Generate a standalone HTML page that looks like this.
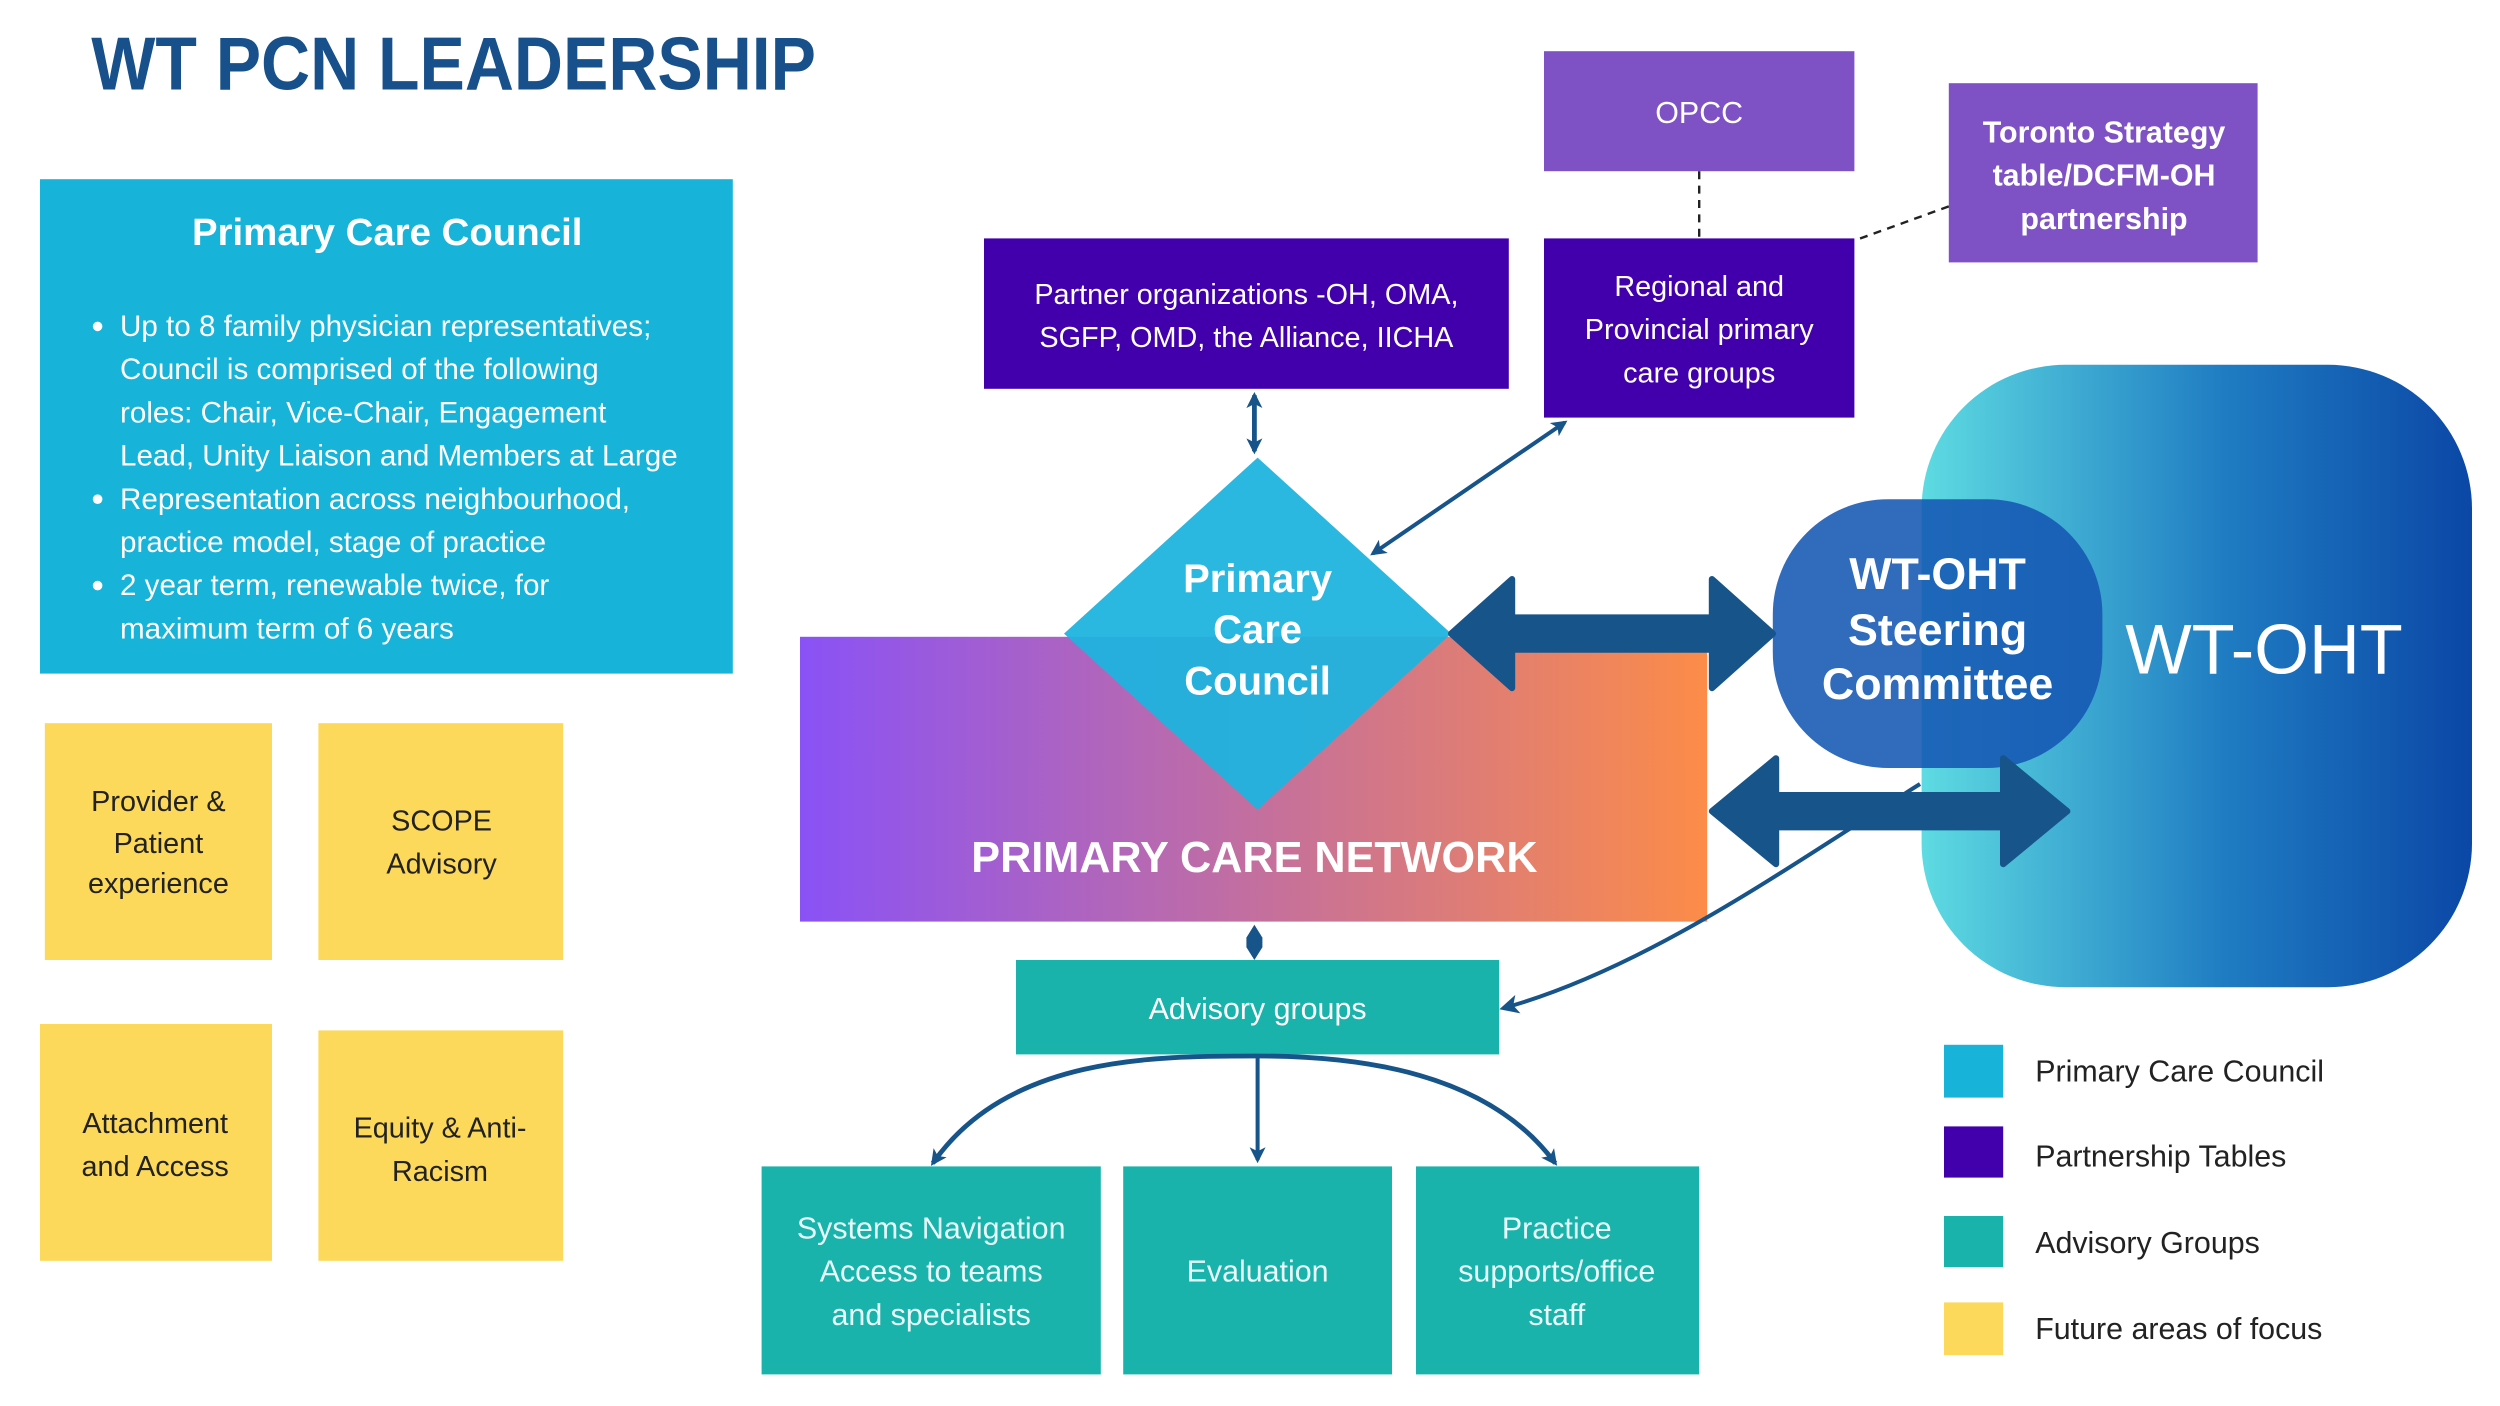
<!DOCTYPE html>
<html><head><meta charset="utf-8"><style>
html,body{margin:0;padding:0;background:#fff;}
svg{display:block;font-family:"Liberation Sans",sans-serif;}
</style></head><body>
<svg width="2500" height="1406" viewBox="0 0 1562.5 878.75" xmlns="http://www.w3.org/2000/svg">
<defs>
<linearGradient id="pcn" x1="0" x2="1"><stop offset="0" stop-color="#8a52f6"/><stop offset="1" stop-color="#fc8c48"/></linearGradient>
<linearGradient id="oht" x1="0" x2="1"><stop offset="0" stop-color="#5edbe2"/><stop offset="0.55" stop-color="#1f7cc2"/><stop offset="1" stop-color="#0b47a6"/></linearGradient>
<marker id="ah" markerWidth="10" markerHeight="10" refX="8" refY="5" orient="auto-start-reverse" markerUnits="userSpaceOnUse"><path d="M0,0 L10,5 L0,10 L2.5,5z" fill="#17548a"/></marker>
<marker id="ah2" markerWidth="12" markerHeight="12" refX="9" refY="6" orient="auto-start-reverse" markerUnits="userSpaceOnUse"><path d="M0,0 L12,6 L0,12 L3,6z" fill="#17548a"/></marker>
</defs>

<text x="57" y="56" font-size="47" font-weight="bold" fill="#17508a" textLength="453" lengthAdjust="spacingAndGlyphs">WT PCN LEADERSHIP</text>

<rect x="25" y="112" width="433" height="309" fill="#17b3d9"/>
<text x="242" y="153" font-size="24" font-weight="bold" fill="#fff" text-anchor="middle">Primary Care Council</text>
<g font-size="18.5" fill="#fff">
<circle cx="61" cy="204" r="3" fill="#fff"/><circle cx="61" cy="312" r="3" fill="#fff"/><circle cx="61" cy="366" r="3" fill="#fff"/>
<text x="75" y="210">Up to 8 family physician representatives;</text>
<text x="75" y="237">Council is comprised of the following</text>
<text x="75" y="264">roles: Chair, Vice-Chair, Engagement</text>
<text x="75" y="291">Lead, Unity Liaison and Members at Large</text>
<text x="75" y="318">Representation across neighbourhood,</text>
<text x="75" y="345">practice model, stage of practice</text>
<text x="75" y="372">2 year term, renewable twice, for</text>
<text x="75" y="399">maximum term of 6 years</text>
</g>

<g fill="#fcd95a"><rect x="28" y="452" width="142" height="148"/><rect x="199" y="452" width="153" height="148"/><rect x="25" y="640" width="145" height="148"/><rect x="199" y="644" width="153" height="144"/></g>
<g font-size="18" fill="#222" text-anchor="middle">
<text x="99" y="507">Provider &amp;</text><text x="99" y="533">Patient</text><text x="99" y="558">experience</text>
<text x="276" y="519">SCOPE</text><text x="276" y="546">Advisory</text>
<text x="97" y="708">Attachment</text><text x="97" y="735">and Access</text>
<text x="275" y="711">Equity &amp; Anti-</text><text x="275" y="738">Racism</text>
</g>

<rect x="615" y="149" width="328" height="94" fill="#4200ac"/>
<g font-size="18" fill="#fff" text-anchor="middle"><text x="779" y="190">Partner organizations -OH, OMA,</text><text x="779" y="217">SGFP, OMD, the Alliance, IICHA</text></g>
<rect x="965" y="32" width="194" height="75" fill="#7e52c4"/>
<text x="1062" y="77" font-size="19" fill="#fff" text-anchor="middle">OPCC</text>
<rect x="965" y="149" width="194" height="112" fill="#4200ac"/>
<g font-size="18" fill="#fff" text-anchor="middle"><text x="1062" y="185">Regional and</text><text x="1062" y="212">Provincial primary</text><text x="1062" y="239">care groups</text></g>
<rect x="1218" y="52" width="193" height="112" fill="#7e52c4"/>
<g font-size="19" font-weight="bold" fill="#fff" text-anchor="middle"><text x="1315" y="89">Toronto Strategy</text><text x="1315" y="116">table/DCFM-OH</text><text x="1315" y="143">partnership</text></g>
<line x1="1062" y1="107" x2="1062" y2="149" stroke="#222" stroke-dasharray="5,4" stroke-width="1.5"/>
<line x1="1218" y1="129" x2="1160" y2="150" stroke="#222" stroke-dasharray="5,4" stroke-width="1.5"/>

<rect x="1201" y="228" width="344" height="389" rx="90" fill="url(#oht)"/>
<text x="1415" y="421" font-size="44" fill="#fff" text-anchor="middle">WT-OHT</text>
<rect x="1108" y="312" width="206" height="168" rx="72" fill="#1556b3" fill-opacity="0.88"/>
<g font-size="28" font-weight="bold" fill="#fff" text-anchor="middle"><text x="1211" y="368">WT-OHT</text><text x="1211" y="403">Steering</text><text x="1211" y="437">Committee</text></g>

<rect x="500" y="398" width="567" height="178" fill="url(#pcn)"/>
<text x="784" y="545" font-size="27" font-weight="bold" fill="#fff" text-anchor="middle">PRIMARY CARE NETWORK</text>
<polygon points="786,286 907,396 786,506 665,396" fill="#1fb3de" fill-opacity="0.95"/>
<g font-size="25" font-weight="bold" fill="#fff" text-anchor="middle"><text x="786" y="370">Primary</text><text x="786" y="402">Care</text><text x="786" y="434">Council</text></g>

<path d="M907,396 L945,362 L945,386 L1070,386 L1070,362 L1108,396 L1070,430 L1070,406 L945,406 L945,430 Z" fill="#17548a" stroke="#17548a" stroke-width="4" stroke-linejoin="round"/>
<path d="M1070,507 L1110,474 L1110,497 L1252,497 L1252,474 L1292,507 L1252,540 L1252,517 L1110,517 L1110,540 Z" fill="#17548a" stroke="#17548a" stroke-width="4" stroke-linejoin="round"/>

<line x1="784" y1="247" x2="784" y2="282" stroke="#17548a" stroke-width="3" marker-start="url(#ah)" marker-end="url(#ah)"/>
<line x1="978" y1="264" x2="858" y2="346" stroke="#17548a" stroke-width="2.5" marker-start="url(#ah)" marker-end="url(#ah)"/>
<path d="M1200,490 C1120,540 1030,605 940,630" fill="none" stroke="#17548a" stroke-width="2.5" marker-end="url(#ah2)"/>
<path d="M784,578 L789,586 L789,592 L784,600 L779,592 L779,586 Z" fill="#17548a"/>

<rect x="635" y="600" width="302" height="59" fill="#1ab3ac"/>
<text x="786" y="637" font-size="19" fill="#fff" text-anchor="middle">Advisory groups</text>
<path d="M583,727 C630,660 720,660 786,660 C850,660 930,670 972,727" fill="none" stroke="#17548a" stroke-width="3" marker-start="url(#ah)" marker-end="url(#ah)"/>
<line x1="786" y1="660" x2="786" y2="725" stroke="#17548a" stroke-width="2.5" marker-end="url(#ah)"/>

<g fill="#1ab3ac"><rect x="476" y="729" width="212" height="130"/><rect x="702" y="729" width="168" height="130"/><rect x="885" y="729" width="177" height="130"/></g>
<g font-size="19" fill="#e8fbfa" text-anchor="middle">
<text x="582" y="774">Systems Navigation</text><text x="582" y="801">Access to teams</text><text x="582" y="828">and specialists</text>
<text x="786" y="801">Evaluation</text>
<text x="973" y="774">Practice</text><text x="973" y="801">supports/office</text><text x="973" y="828">staff</text>
</g>

<rect x="1215" y="653" width="37" height="33" fill="#17b3d9"/>
<rect x="1215" y="704" width="37" height="32" fill="#4200ac"/>
<rect x="1215" y="760" width="37" height="32" fill="#1ab3ac"/>
<rect x="1215" y="814" width="37" height="33" fill="#fcd95a"/>
<g font-size="19" fill="#222">
<text x="1272" y="676">Primary Care Council</text>
<text x="1272" y="729">Partnership Tables</text>
<text x="1272" y="783">Advisory Groups</text>
<text x="1272" y="837">Future areas of focus</text>
</g>
</svg>
</body></html>
